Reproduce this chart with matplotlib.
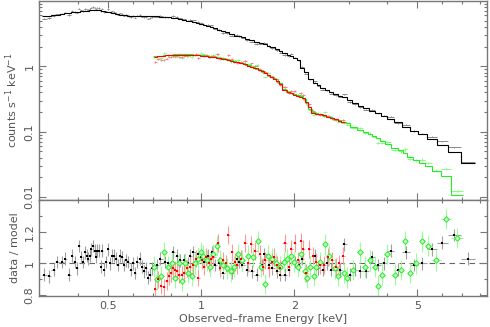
import numpy as np
import matplotlib
matplotlib.use("Agg")
import matplotlib.pyplot as plt
from matplotlib.ticker import FixedLocator, FixedFormatter, NullFormatter, LogLocator, MultipleLocator

# ---------------- data ----------------
# Black spectrum (bin centres keV, model counts/s/keV, data/model ratio)
pn_energy = [0.311, 0.323, 0.333, 0.343, 0.354, 0.364, 0.374, 0.382, 0.390, 0.398,
             0.404, 0.410, 0.416, 0.421, 0.426, 0.431, 0.436, 0.441, 0.447, 0.452,
             0.457, 0.462, 0.467, 0.473, 0.479, 0.485, 0.492, 0.498, 0.506, 0.513,
             0.522, 0.531, 0.539, 0.546, 0.553, 0.562, 0.571, 0.581, 0.591, 0.601,
             0.611, 0.622, 0.634, 0.643, 0.654, 0.664, 0.671, 0.681, 0.692, 0.702,
             0.719, 0.737, 0.764, 0.784, 0.810, 0.834, 0.855, 0.877, 0.906, 0.921,
             0.944, 0.976, 0.998, 1.025, 1.056, 1.083, 1.110, 1.146, 1.181, 1.211,
             1.257, 1.305, 1.330, 1.360, 1.406, 1.459, 1.515, 1.572, 1.603, 1.652,
             1.701, 1.758, 1.802, 1.861, 1.918, 1.955, 2.014, 2.066, 2.118, 2.172,
             2.253, 2.338, 2.386, 2.470, 2.550, 2.630, 2.730, 2.820, 2.900, 3.020,
             3.150, 3.270, 3.410, 3.560, 3.720, 3.890, 4.110, 4.320, 4.610, 4.870,
             5.200, 5.580, 6.020, 6.560, 7.300]
pn_model = [5.80, 5.95, 6.10, 6.20, 6.35, 6.45, 6.60, 6.70, 6.75, 6.85,
            6.90, 6.95, 7.00, 7.05, 7.10, 7.15, 7.20, 7.25, 7.30, 7.30,
            7.30, 7.30, 7.25, 7.20, 7.10, 7.00, 6.90, 6.80, 6.70, 6.60,
            6.45, 6.35, 6.25, 6.15, 6.10, 6.05, 6.00, 5.95, 5.90, 5.90,
            5.90, 5.90, 5.90, 5.90, 5.90, 5.90, 5.90, 5.90, 5.90, 5.85,
            5.80, 5.75, 5.65, 5.60, 5.50, 5.40, 5.30, 5.15, 5.00, 4.90,
            4.75, 4.55, 4.42, 4.28, 4.10, 3.95, 3.80, 3.62, 3.45, 3.30,
            3.13, 2.95, 2.87, 2.78, 2.65, 2.50, 2.37, 2.24, 2.17, 2.06,
            1.95, 1.85, 1.74, 1.60, 1.50, 1.44, 1.35, 1.25, 0.95, 0.82,
            0.65, 0.56, 0.52, 0.46, 0.43, 0.40, 0.375, 0.357, 0.335, 0.305,
            0.275, 0.250, 0.228, 0.210, 0.193, 0.177, 0.157, 0.140, 0.120, 0.104,
            0.093, 0.077, 0.063, 0.049, 0.033]
pn_ratio = [0.93, 0.92, 0.96, 1.01, 1.01, 1.03, 0.93, 1.05, 1.01, 0.97,
            1.11, 1.04, 1.01, 1.07, 1.05, 1.03, 1.05, 1.09, 1.11, 1.08,
            1.04, 1.08, 1.08, 0.98, 1.08, 0.96, 1.01, 1.09, 1.00, 1.05,
            1.05, 1.03, 0.99, 1.05, 1.04, 0.99, 1.02, 1.01, 0.96, 1.00,
            0.94, 1.01, 1.03, 0.98, 0.95, 0.97, 0.91, 0.93, 0.97, 0.98,
            0.99, 1.03, 1.01, 1.00, 1.07, 1.05, 1.02, 1.02, 1.00, 1.05,
            1.07, 1.06, 1.04, 1.01, 1.05, 1.07, 0.99, 1.00, 0.94, 0.98,
            0.94, 1.03, 1.01, 0.99, 0.96, 0.95, 0.93, 0.99, 1.06, 0.99,
            0.97, 0.95, 0.93, 0.93, 0.96, 1.09, 1.01, 0.99, 1.03, 0.94,
            0.97, 1.05, 0.97, 0.96, 1.00, 0.96, 0.96, 0.96, 1.12, 0.93,
            0.96, 0.95, 0.95, 1.04, 0.99, 1.00, 1.08, 0.96, 1.07, 0.99,
            1.00, 1.09, 1.13, 1.18, 1.03]
pn_err = 0.04

# Red spectrum
red_energy = [0.711, 0.727, 0.743, 0.759, 0.774, 0.787, 0.800, 0.812, 0.824, 0.838,
              0.851, 0.866, 0.883, 0.899, 0.921, 0.944, 0.962, 0.980, 1.005, 1.020,
              1.038, 1.064, 1.080, 1.096, 1.132, 1.152, 1.175, 1.200, 1.225, 1.257,
              1.288, 1.310, 1.345, 1.388, 1.420, 1.452, 1.496, 1.552, 1.580, 1.611,
              1.652, 1.690, 1.727, 1.765, 1.802, 1.861, 1.918, 1.955, 2.014, 2.055,
              2.100, 2.143, 2.187, 2.238, 2.309, 2.356, 2.427, 2.500, 2.580, 2.660,
              2.730, 2.800, 2.880]
red_model = [1.40, 1.42, 1.44, 1.46, 1.48, 1.49, 1.50, 1.50, 1.51, 1.51,
             1.51, 1.51, 1.51, 1.50, 1.50, 1.49, 1.48, 1.47, 1.46, 1.45,
             1.43, 1.41, 1.39, 1.38, 1.35, 1.33, 1.31, 1.28, 1.25, 1.22,
             1.18, 1.15, 1.12, 1.07, 1.03, 0.99, 0.94, 0.87, 0.84, 0.80,
             0.74, 0.69, 0.64, 0.59, 0.54, 0.43, 0.40, 0.385, 0.37, 0.355,
             0.345, 0.33, 0.29, 0.24, 0.195, 0.19, 0.185, 0.178, 0.17, 0.16,
             0.155, 0.148, 0.142]
red_ratio = [0.84, 0.90, 0.86, 0.85, 0.89, 0.92, 0.94, 0.97, 0.96, 0.95,
             0.93, 0.93, 0.94, 0.97, 0.98, 0.99, 1.03, 0.91, 1.02, 0.98,
             1.04, 1.00, 1.03, 1.04, 1.13, 0.97, 1.02, 1.00, 1.18, 1.07,
             1.01, 0.99, 1.03, 1.13, 1.00, 1.12, 1.08, 1.06, 0.98, 1.02,
             0.97, 1.01, 1.04, 0.99, 0.97, 1.13, 0.98, 1.09, 1.13, 1.02,
             1.14, 1.09, 0.94, 1.09, 1.05, 1.01, 0.99, 0.99, 1.04, 1.02,
             0.98, 1.00, 1.05]
red_err = 0.055

# Green spectrum
grn_energy = [0.705, 0.722, 0.743, 0.759, 0.784, 0.804, 0.824, 0.845, 0.866, 0.888,
              0.910, 0.933, 0.955, 0.980, 1.000, 1.017, 1.045, 1.070, 1.096, 1.124,
              1.150, 1.180, 1.210, 1.250, 1.280, 1.315, 1.360, 1.423, 1.470, 1.525,
              1.560, 1.611, 1.650, 1.700, 1.750, 1.800, 1.850, 1.900, 1.950, 2.000,
              2.060, 2.110, 2.160, 2.198, 2.250, 2.310, 2.360, 2.420, 2.520, 2.600,
              2.710, 2.780, 2.900, 2.970, 3.110, 3.260, 3.400, 3.520, 3.640, 3.740,
              3.850, 3.990, 4.250, 4.420, 4.550, 4.750, 4.950, 5.180, 5.410, 5.770,
              6.180, 6.720]
grn_model = [1.42, 1.44, 1.46, 1.48, 1.50, 1.51, 1.52, 1.53, 1.53, 1.53,
             1.52, 1.52, 1.51, 1.50, 1.48, 1.47, 1.45, 1.42, 1.40, 1.37,
             1.35, 1.32, 1.29, 1.25, 1.21, 1.16, 1.11, 1.04, 0.98, 0.91,
             0.87, 0.80, 0.75, 0.69, 0.63, 0.56, 0.45, 0.41, 0.395, 0.38,
             0.362, 0.35, 0.32, 0.28, 0.22, 0.198, 0.192, 0.186, 0.177, 0.168,
             0.157, 0.152, 0.143, 0.138, 0.120, 0.108, 0.098, 0.092, 0.085, 0.079,
             0.073, 0.066, 0.057, 0.052, 0.047, 0.041, 0.037, 0.033, 0.030, 0.025,
             0.021, 0.0106]
grn_ratio = [0.98, 0.90, 0.92, 1.07, 0.98, 1.00, 0.91, 1.00, 0.89, 1.00,
             0.94, 0.92, 1.00, 1.03, 1.07, 1.05, 1.02, 0.98, 1.06, 1.11,
             1.02, 0.99, 0.97, 0.95, 0.98, 1.06, 1.02, 1.05, 1.04, 1.14,
             0.98, 0.87, 1.05, 1.03, 1.00, 0.98, 1.01, 1.03, 1.05, 1.01,
             0.98, 1.06, 0.95, 0.91, 0.98, 0.92, 0.98, 1.01, 1.12, 1.05,
             0.97, 0.92, 0.94, 0.91, 0.96, 1.07, 0.98, 1.02, 0.98, 0.86,
             0.93, 1.06, 0.93, 0.96, 1.14, 0.94, 1.00, 1.14, 1.11, 1.02,
             1.28, 1.16]
grn_err = 0.065

x_major = [0.5, 1, 2, 5]
x_major_labels = ["0.5", "1", "2", "5"]
x_minor = [0.3, 0.4, 0.6, 0.7, 0.8, 0.9, 3, 4, 6, 7, 8]
top_ticks = [0.01, 0.1, 1]
top_tick_labels = ["0.01", "0.1", "1"]
bot_ticks = [0.8, 1.0, 1.2]
bot_tick_labels = ["0.8", "1", "1.2"]


def edges_from_centers(c):
    c = np.asarray(c, float)
    mid = np.sqrt(c[1:] * c[:-1])
    return np.concatenate([[c[0] ** 2 / mid[0]], mid, [c[-1] ** 2 / mid[-1]]])


TXT = "#555555"
FRAME = "#777777"
plt.rcParams["font.family"] = ["DejaVu Sans"]
plt.rcParams["font.size"] = 8

fig = plt.figure(figsize=(4.9, 3.27), dpi=100)
ax1 = fig.add_axes([0.0806, 0.388, 0.913, 0.609])
ax2 = fig.add_axes([0.0806, 0.0948, 0.913, 0.2936], sharex=ax1)

series = [
    (pn_energy, pn_model, pn_ratio, pn_err, "#000000", "#8a8a8a", "#a0a0a0", "s", 2.0, "#000000"),
    (grn_energy, grn_model, grn_ratio, grn_err, "#22ee22", "#7dff7d", "#99ff99", "D", 2.8, "none"),
    (red_energy, red_model, red_ratio, red_err, "#ff0000", "#ff7a7a", "#ff9999", "s", 2.0, "#ff0000"),
]

for e, m, r, err, col, ecol_top, ecol_bot, mk, ms, mfc in series:
    e = np.asarray(e, float)
    m = np.asarray(m, float)
    r = np.asarray(r, float)
    ed = edges_from_centers(e)
    xlo = e - ed[:-1]
    xhi = ed[1:] - e
    data = m * r
    ax1.errorbar(e, data, xerr=[xlo, xhi], yerr=data * err * 0.6, fmt="none",
                 ecolor=ecol_top, elinewidth=0.7, capsize=0, zorder=2)
    ax1.stairs(m, ed, baseline=None, color=col, lw=0.8, zorder=3)
    ax2.errorbar(e, r, xerr=[xlo, xhi], yerr=err, fmt="none",
                 ecolor=ecol_bot, elinewidth=0.8, capsize=0, zorder=2)
    if mfc == "none":
        ax2.plot(e, r, ls="none", marker=mk, ms=ms, mfc="#c8ffc8", mec=col,
                 mew=0.7, zorder=3)
    else:
        ax2.plot(e, r, ls="none", marker=mk, ms=ms, mfc=mfc, mec=mfc,
                 mew=0, zorder=3)

ax2.axhline(1.0, color="#666666", lw=0.8, ls=(0, (5, 4)), zorder=1)

for ax in (ax1, ax2):
    ax.set_xscale("log")
    ax.set_xlim(0.3, 8.4)
    ax.xaxis.set_major_locator(FixedLocator(x_major))
    ax.xaxis.set_minor_locator(FixedLocator(x_minor))
    ax.xaxis.set_minor_formatter(NullFormatter())
    ax.tick_params(which="both", direction="in", top=True, right=True,
                   colors=FRAME, labelcolor=TXT, labelsize=8, width=0.8)
    ax.tick_params(which="major", length=5)
    ax.tick_params(which="minor", length=2.5)
    for s in ax.spines.values():
        s.set_color(FRAME)
        s.set_linewidth(1.0)

ax1.set_yscale("log")
ax1.set_ylim(0.009, 10)
ax1.yaxis.set_major_locator(FixedLocator(top_ticks))
ax1.yaxis.set_major_formatter(FixedFormatter(top_tick_labels))
ax1.yaxis.set_minor_locator(LogLocator(base=10, subs=np.arange(2, 10)))
ax1.yaxis.set_minor_formatter(NullFormatter())
ax1.tick_params(axis="x", labelbottom=False)
ax1.set_ylabel("counts s$^{-1}$ keV$^{-1}$", color=TXT, fontsize=8, labelpad=3)

ax2.set_ylim(0.795, 1.40)
ax2.yaxis.set_major_locator(FixedLocator(bot_ticks))
ax2.yaxis.set_major_formatter(FixedFormatter(bot_tick_labels))
ax2.yaxis.set_minor_locator(MultipleLocator(0.1))
ax2.xaxis.set_major_formatter(FixedFormatter(x_major_labels))
ax2.set_ylabel("data / model", color=TXT, fontsize=8, labelpad=3)
ax2.set_xlabel("Observed\u2013frame Energy [keV]", color=TXT, fontsize=8, labelpad=2)

for ax in (ax1, ax2):
    for t in ax.get_yticklabels():
        t.set_rotation(90)
        t.set_va("center")

fig.savefig("out.png", dpi=100)
